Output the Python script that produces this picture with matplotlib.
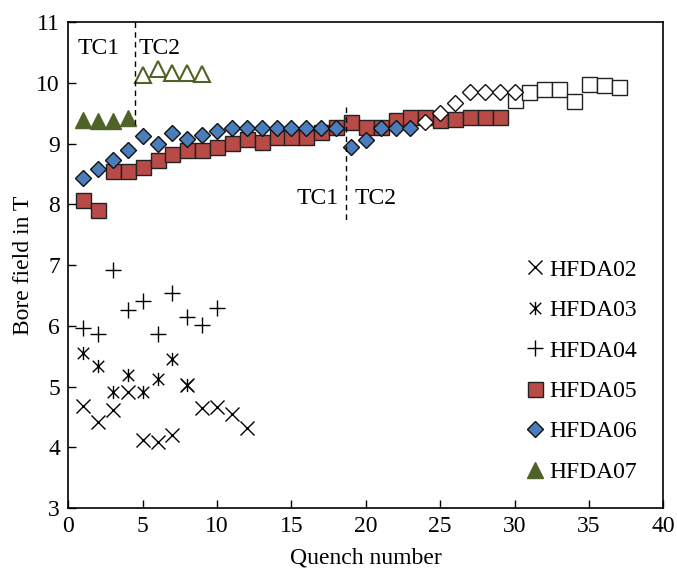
import matplotlib.pyplot as plt
from matplotlib.path import Path

plt.rcParams["font.family"] = ["Liberation Serif", "DejaVu Serif"]
plt.rcParams["font.size"] = 17

# quench numbers and bore fields [T] per magnet
q02 = [1, 2, 3, 4, 5, 6, 7, 8, 9, 10, 11, 12]
b02 = [4.68, 4.42, 4.62, 4.91, 4.12, 4.09, 4.20, 5.02, 4.64, 4.67, 4.54, 4.32]

q03 = [1, 2, 3, 4, 5, 6, 7, 8]
b03 = [5.56, 5.33, 4.91, 5.19, 4.91, 5.13, 5.46, 5.03]

q04 = [1, 2, 3, 4, 5, 6, 7, 8, 9, 10]
b04 = [5.97, 5.86, 6.92, 6.26, 6.40, 5.86, 6.54, 6.15, 6.01, 6.30]

q05 = list(range(1, 30))
b05 = [8.07, 7.91, 8.54, 8.54, 8.62, 8.73, 8.83, 8.89, 8.90, 8.95,
       9.01, 9.07, 9.03, 9.10, 9.11, 9.11, 9.19, 9.28, 9.36, 9.28,
       9.28, 9.39, 9.44, 9.44, 9.39, 9.41, 9.44, 9.44, 9.44]
q05b = list(range(30, 38))
b05b = [9.72, 9.85, 9.89, 9.89, 9.70, 9.98, 9.96, 9.93]

q06 = list(range(1, 24))
b06 = [8.44, 8.58, 8.73, 8.90, 9.12, 8.99, 9.17, 9.07, 9.14, 9.21,
       9.25, 9.25, 9.25, 9.25, 9.25, 9.25, 9.25, 9.25, 8.94, 9.06,
       9.25, 9.25, 9.25]
q06b = list(range(24, 31))
b06b = [9.36, 9.50, 9.66, 9.85, 9.85, 9.85, 9.85]

q07 = [1, 2, 3, 4]
b07 = [9.39, 9.37, 9.37, 9.42]
q07b = [5, 6, 7, 8, 9]
b07b = [10.12, 10.23, 10.16, 10.16, 10.14]

RED = "#B84A47"
BLUE = "#4A7DBA"
GREEN = "#4F6228"

# x with a vertical bar through it
star = Path([(-1, -1), (1, 1), (-1, 1), (1, -1), (0, -1.15), (0, 1.15)],
            [Path.MOVETO, Path.LINETO, Path.MOVETO, Path.LINETO,
             Path.MOVETO, Path.LINETO])

fig = plt.figure(figsize=(6.77, 5.68), dpi=100)
ax = fig.add_axes([0.1009, 0.1056, 0.8789, 0.8556])

ax.plot(q02, b02, ls="none", marker="x", ms=9.5, mew=1.0, color="black", label="HFDA02")
ax.plot(q03, b03, ls="none", marker=star, ms=9.5, mew=1.0, color="black", label="HFDA03")
ax.plot(q04, b04, ls="none", marker="+", ms=12, mew=1.0, color="black", label="HFDA04")
ax.plot(q05, b05, ls="none", marker="s", ms=10.8, mew=1.0, mfc=RED, mec="#222222", label="HFDA05")
ax.plot(q05b, b05b, ls="none", marker="s", ms=10.8, mew=1.0, mfc="white", mec="#222222")
ax.plot(q06, b06, ls="none", marker="D", ms=8.4, mew=1.0, mfc=BLUE, mec="#111111", label="HFDA06")
ax.plot(q06b, b06b, ls="none", marker="D", ms=8.4, mew=1.0, mfc="white", mec="#111111")
ax.plot(q07, b07, ls="none", marker="^", ms=11, mew=1.0, mfc=GREEN, mec=GREEN, label="HFDA07")
ax.plot(q07b, b07b, ls="none", marker="^", ms=11, mew=1.5, mfc="white", mec=GREEN)

# training campaign boundaries
ax.plot([4.5, 4.5], [11, 9.3], ls=(0, (4, 3)), lw=1.0, color="black")
ax.plot([18.7, 18.7], [9.6, 7.7], ls=(0, (4, 3)), lw=1.0, color="black")
ax.text(0.65, 10.57, "TC1", va="center", ha="left")
ax.text(4.7, 10.57, "TC2", va="center", ha="left")
ax.text(15.35, 8.1, "TC1", va="center", ha="left")
ax.text(19.25, 8.1, "TC2", va="center", ha="left")

ax.set_xlim(0, 40)
ax.set_ylim(3, 11)
ax.set_xticks(range(0, 41, 5))
ax.set_yticks(range(3, 12))
ax.tick_params(direction="in", length=6, width=1.0, pad=6)
for s in ax.spines.values():
    s.set_linewidth(1.2)
ax.set_xlabel("Quench number", labelpad=7)
ax.set_ylabel("Bore field in T", labelpad=2)

ax.legend(loc="upper left", bbox_to_anchor=(0.768, 0.512), frameon=False,
          handlelength=0.8, handletextpad=0.2, labelspacing=0.8,
          borderpad=0, borderaxespad=0)

fig.savefig("out.png", dpi=100)
